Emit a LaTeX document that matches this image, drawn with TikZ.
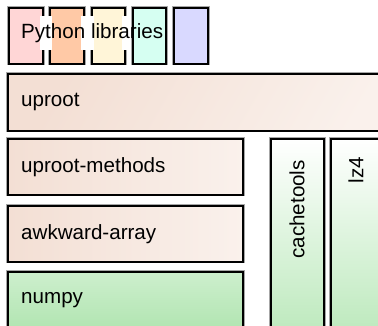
\documentclass[tikz,border=0pt]{standalone}
\usepackage{fontspec}
\setmainfont{Liberation Sans}
\begin{document}
\begin{tikzpicture}[x=1pt,y=1pt,
  box/.style={rectangle, draw=black, line width=1.8pt, inner sep=0pt, anchor=north west,
    preaction={draw=black!35, line width=3.2pt}},
  lbl/.style={inner sep=0pt, font=\fontsize{20.6}{24}\selectfont, text=black},
  gap/.style={fill=white, draw=none}
]
\useasboundingbox (0,0) rectangle (378,-326);
\clip (0,0) rectangle (378,-326);
\definecolor{c1}{HTML}{FFD6D6}
\definecolor{c2}{HTML}{FFC9A6}
\definecolor{c3}{HTML}{FFF5D8}
\definecolor{c4}{HTML}{D6FFF2}
\definecolor{c5}{HTML}{D9D9FF}
\definecolor{peachL}{HTML}{F3DFD4}
\definecolor{peachR}{HTML}{FAF1EC}
\definecolor{greenT}{HTML}{CDEFCD}
\definecolor{greenB}{HTML}{B2E5B2}
\definecolor{greenP}{HTML}{BFEABF}
% legend boxes
\node[box, fill=c1, minimum width=34, minimum height=56] (l1) at (8,-7) {};
\node[box, fill=c2, minimum width=34, minimum height=56] (l2) at (49,-7) {};
\node[box, fill=c3, minimum width=33, minimum height=56] (l3) at (91,-7) {};
\node[box, fill=c4, minimum width=33, minimum height=56] (l4) at (132,-7) {};
\node[box, fill=c5, minimum width=34, minimum height=56] (l5) at (173,-7) {};
\fill[gap] (40,-16) rectangle (45,-50);
\fill[gap] (47,-16) rectangle (52,-50);
\fill[gap] (81,-16) rectangle (86,-50);
\fill[gap] (89,-16) rectangle (94,-50);
\fill[gap] (122,-16) rectangle (127,-50);
\node[lbl, anchor=west] (pylib) at (21,-33) {Python libraries};
% uproot
\node[box, left color=peachL, right color=peachR, shading angle=60, minimum width=400, minimum height=57] (uproot) at (7,-73) {};
\node[lbl, anchor=west] (tuproot) at ([xshift=14]uproot.west) {uproot};
% uproot-methods
\node[box, left color=peachL, right color=peachR, minimum width=235, minimum height=56] (um) at (7,-138) {};
\node[lbl, anchor=west] (tum) at ([xshift=14]um.west) {uproot-methods};
% awkward-array
\node[box, left color=peachL, right color=peachR, minimum width=235, minimum height=56] (aw) at (7,-205) {};
\node[lbl, anchor=west] (taw) at ([xshift=14]aw.west) {awkward-array};
% numpy
\node[box, top color=greenT, bottom color=greenB, minimum width=235, minimum height=56] (np) at (7,-271) {};
\node[lbl, anchor=west] (tnp) at ([xshift=14]np.west) {numpy};
% cachetools
\node[box, top color=white, bottom color=greenP, minimum width=53, minimum height=188] (ct) at (270,-138) {};
\node[lbl, rotate=90, anchor=east] (tct) at (297,-160) {cachetools};
% lz4
\node[box, top color=white, bottom color=greenP, minimum width=60, minimum height=188] (lz) at (330,-138) {};
\node[lbl, rotate=90, anchor=east] (tlz) at (356,-157) {lz4};
\end{tikzpicture}
\end{document}
